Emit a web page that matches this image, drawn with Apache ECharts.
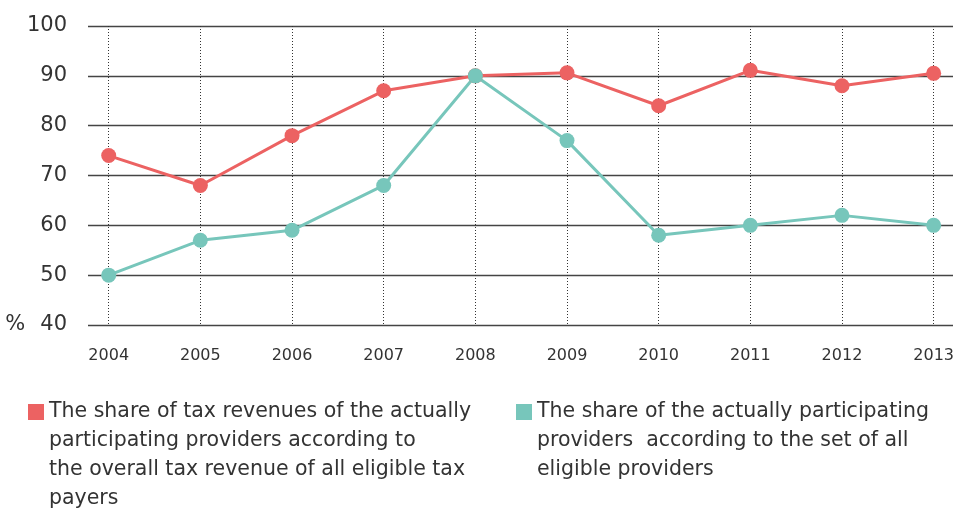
<!DOCTYPE html>
<html>
<head>
<meta charset="utf-8">
<script src="https://cdn.jsdelivr.net/npm/echarts@6/dist/echarts.min.js"></script>
<style>
  html, body { margin: 0; padding: 0; background: #fff; }
  #chart { width: 957px; height: 509px; }
</style>
</head>
<body>
<div id="chart"></div>
<script>
var years = ['2004', '2005', '2006', '2007', '2008', '2009', '2010', '2011', '2012', '2013'];
var taxShare = [74, 68, 78, 87, 90, 90.6, 84, 91.1, 88, 90.5];
var providerShare = [50, 57, 59, 68, 90, 77, 58, 60, 62, 60];
var yTicks = [40, 50, 60, 70, 80, 90, 100];

var nameTax = 'The share of tax revenues of the actually participating providers according to the overall tax revenue of all eligible tax payers';
var nameProv = 'The share of the actually participating providers  according to the set of all eligible providers';
var legendLines = {};
legendLines[nameTax] = ['The share of tax revenues of the actually', 'participating providers according to', 'the overall tax revenue of all eligible tax', 'payers'];
legendLines[nameProv] = ['The share of the actually participating', 'providers  according to the set of all', 'eligible providers'];

var red = '#ec6262';
var teal = '#77c6bb';
var font = 'DejaVu Sans';
var textColor = '#333';
var lineH = 29;

// legend text is centred on the icon: put blank lines in front so line one sits in the middle
function legendFor(name, left, iconTop) {
  var n = legendLines[name].length;
  var blanks = [];
  for (var i = 0; i < n - 1; i++) blanks.push('');
  var total = 2 * n - 1;
  return {
    left: left,
    top: iconTop + 8 - total * lineH / 2,
    padding: 0,
    itemWidth: 16,
    itemHeight: 16,
    icon: 'rect',
    selectedMode: false,
    data: [name],
    formatter: function (nm) { return blanks.concat(legendLines[nm]).join('\n'); },
    textStyle: { fontFamily: font, fontSize: 20.5, color: textColor, lineHeight: lineH }
  };
}

var chart = echarts.init(document.getElementById('chart'));
chart.setOption({
  animation: false,
  grid: [
    { left: 88, right: 4, top: 26, bottom: 184 },
    { left: 108.7, right: 14.3, top: 26, bottom: 184 }
  ],
  legend: [legendFor(nameTax, 28, 404), legendFor(nameProv, 516, 404)],
  xAxis: [
    { type: 'value', gridIndex: 0, show: false, min: 0, max: 1 },
    {
      type: 'category', gridIndex: 1, data: years, boundaryGap: false,
      axisLine: { show: false }, axisTick: { show: false },
      axisLabel: { fontFamily: font, fontSize: 16, color: textColor, margin: 23 },
      splitLine: { show: true, lineStyle: { color: '#333', width: 1, type: [1, 2] } }
    }
  ],
  yAxis: [
    {
      type: 'value', gridIndex: 0, min: yTicks[0], max: yTicks[yTicks.length - 1], interval: 10,
      axisLine: { show: false }, axisTick: { show: false },
      axisLabel: {
        margin: 21, fontFamily: font, fontSize: 21, color: textColor,
        formatter: function (v) { return v === yTicks[0] ? '{p|%}' + v : '' + v; },
        rich: { p: { fontFamily: font, fontSize: 21, color: textColor, padding: [0, 15, 0, 0] } }
      },
      splitLine: { show: true, lineStyle: { color: '#444', width: 1.3 } }
    },
    { type: 'value', gridIndex: 1, min: yTicks[0], max: yTicks[yTicks.length - 1], show: false }
  ],
  series: [
    {
      name: nameTax, type: 'line', xAxisIndex: 1, yAxisIndex: 1, data: taxShare,
      symbol: 'circle', symbolSize: 15, color: red,
      lineStyle: { width: 3, color: red }, itemStyle: { color: red }
    },
    {
      name: nameProv, type: 'line', xAxisIndex: 1, yAxisIndex: 1, data: providerShare,
      symbol: 'circle', symbolSize: 15, color: teal,
      lineStyle: { width: 3, color: teal }, itemStyle: { color: teal }
    }
  ]
});
</script>
</body>
</html>
